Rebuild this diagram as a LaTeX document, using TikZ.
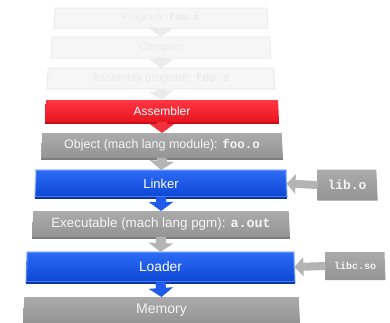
\documentclass[tikz,border=0pt]{standalone}
\usepackage{fontspec}
\setsansfont{Liberation Sans}
\setmonofont{Liberation Mono}
\usetikzlibrary{shapes.geometric,arrows.meta}

\definecolor{fadefill}{HTML}{F6F6F6}
\definecolor{fadeedge}{HTML}{E6E6E6}
\definecolor{fadetext}{HTML}{EAEAEA}
\definecolor{redtop}{HTML}{FF3644}
\definecolor{redbot}{HTML}{E8141F}
\definecolor{redrim}{HTML}{C80C18}
\definecolor{bluetop}{HTML}{2D6CF6}
\definecolor{bluebot}{HTML}{0C46D4}
\definecolor{bluerim}{HTML}{0A36A8}
\definecolor{blueglow}{HTML}{7FA8FF}
\definecolor{graytop}{HTML}{ABABAB}
\definecolor{graybot}{HTML}{949494}
\definecolor{grayrim}{HTML}{7E7E7E}
\definecolor{graytext}{HTML}{F4F4F4}
\definecolor{fadearrow}{HTML}{EBEBEB}
\definecolor{redarrow}{HTML}{F2303C}
\definecolor{grayarrow}{HTML}{B4B4B4}
\definecolor{bluearrow}{HTML}{1E5BEA}

\newcommand{\fsz}[1]{\sffamily\fontsize{#1}{#1}\selectfont}
\newcommand{\code}[1]{{\ttfamily\bfseries #1}}

\tikzset{
  stage/.style={trapezium, trapezium left angle=84, trapezium right angle=84,
    trapezium stretches body, inner sep=0pt, outer sep=0pt},
  faded/.style={stage, fill=fadefill, draw=fadeedge, line width=0.6pt, text=fadetext},
  redstage/.style={stage, top color=redtop, bottom color=redbot, text=white},
  bluestage/.style={stage, top color=bluetop, bottom color=bluebot, text=white,
    draw=blueglow, draw opacity=0.55, line width=1.6pt},
  graystage/.style={stage, top color=graytop, bottom color=graybot, text=graytext},
  libbox/.style={trapezium, trapezium left angle=90, trapezium right angle=82,
    trapezium stretches body, inner sep=0pt, outer sep=0pt,
    top color=graytop, bottom color=graybot, text=graytext},
  rim/.style={line width=1.6pt},
  down/.style={line width=10pt, -{Triangle[width=24pt,length=9pt]}},
  side/.style={line width=8pt, grayarrow, -{Triangle[width=19pt,length=9pt]}},
}

\begin{document}
\begin{tikzpicture}[x=1pt,y=-1pt]
\useasboundingbox (0,0) rectangle (390,322);
\clip (0,0) rectangle (390,322);

% pipeline stages, top to bottom
\node[faded, minimum width=214pt, minimum height=20pt, font=\fsz{10.5}] (src) at (161,18) {Program: \code{foo.c}};
\node[faded, minimum width=220pt, minimum height=21pt, font=\fsz{11}] (cc) at (161,47.5) {Compiler};
\node[faded, minimum width=228pt, minimum height=21pt, font=\fsz{11.5}] (asmsrc) at (161,78.5) {Assembly program: \code{foo.s}};
\node[redstage, minimum width=234pt, minimum height=22pt, font=\fsz{12}] (as) at (162,111) {Assembler};
\node[graystage, minimum width=242pt, minimum height=25pt, font=\fsz{12.5}] (obj) at (162,145.5) {Object (mach lang module): \code{foo.o}};
\node[bluestage, minimum width=252pt, minimum height=27pt, font=\fsz{13}] (ld) at (161,183.5) {Linker};
\node[graystage, minimum width=258pt, minimum height=26pt, font=\fsz{13.4}] (exe) at (161,224) {Executable (mach lang pgm): \code{a.out}};
\node[bluestage, minimum width=269pt, minimum height=30pt, font=\fsz{13.8}] (load) at (160.5,267) {Loader};
\node[graystage, minimum width=277pt, minimum height=26pt, font=\fsz{14}] (mem) at (161.5,310) {Memory};

% darker lower rims give the slabs some thickness
\draw[rim, redrim] ([yshift=-0.8pt]as.bottom left corner) -- ([yshift=-0.8pt]as.bottom right corner);
\draw[rim, grayrim] ([yshift=-0.8pt]obj.bottom left corner) -- ([yshift=-0.8pt]obj.bottom right corner);
\draw[rim, bluerim] ([yshift=-0.8pt]ld.bottom left corner) -- ([yshift=-0.8pt]ld.bottom right corner);
\draw[rim, grayrim] ([yshift=-0.8pt]exe.bottom left corner) -- ([yshift=-0.8pt]exe.bottom right corner);
\draw[rim, bluerim] ([yshift=-0.8pt]load.bottom left corner) -- ([yshift=-0.8pt]load.bottom right corner);

% libraries fed in from the side
\node[libbox, minimum width=60pt, minimum height=31pt, font=\ttfamily\bfseries\fontsize{13}{13}\selectfont] (libo) at (347,185) {lib.o};
\node[libbox, minimum width=60pt, minimum height=28pt, font=\ttfamily\bfseries\fontsize{10}{10}\selectfont] (libc) at (355,266) {libc.so};

% flow between stages
\draw[down, fadearrow] (src.south) -- (cc.north);
\draw[down, fadearrow] (cc.south) -- (asmsrc.north);
\draw[down, fadearrow] (asmsrc.south) -- (as.north);
\draw[down, redarrow] (as.south) -- (obj.north);
\draw[down, grayarrow] (obj.south) -- (ld.north);
\draw[down, bluearrow] (ld.south) -- (exe.north);
\draw[down, grayarrow] (exe.south) -- (load.north);
\draw[down, bluearrow] (load.south) -- (mem.north);

\draw[side] (libo.west) -- (ld.east);
\draw[side] (libc.west) -- (load.east);
\end{tikzpicture}
\end{document}
